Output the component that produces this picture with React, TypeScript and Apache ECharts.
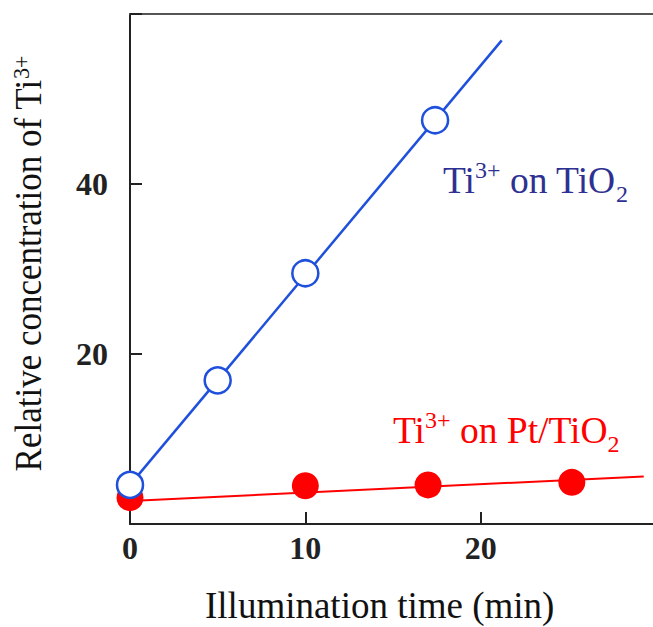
import React, { useEffect, useRef } from 'react';
import * as echarts from 'echarts';

// Data
const xTickStep = 10;
const yTickStep = 20;
const tio2Time = [0, 5, 10, 17.4];
const tio2Value = [4.6, 16.9, 29.5, 47.5];
const tio2FitTime = [0, 21.2];
const tio2FitValue = [4.6, 56.9];
const ptTime = [0, 10, 17, 25.2];
const ptValue = [3.1, 4.5, 4.6, 4.9];
const ptFitTime = [0, 29.3];
const ptFitValue = [2.7, 5.6];

// Text pieces: [text, kind] where kind is n (normal), sup or sub
type Part = [string, 'n' | 'sup' | 'sub'];
const tio2Label: Part[] = [['Ti', 'n'], ['3+', 'sup'], [' on TiO', 'n'], ['2', 'sub']];
const ptLabel: Part[] = [['Ti', 'n'], ['3+', 'sup'], [' on Pt/TiO', 'n'], ['2', 'sub']];
const yTitle: Part[] = [['Relative concentration of Ti', 'n'], ['3+', 'sup']];
const xTitle = 'Illumination time (min)';

const SERIF = 'Liberation Serif, serif';
const NAVY = '#2e3192';
const BLUE = '#1f50dc';
const RED = '#ff0000';

const pairs = (xs: number[], ys: number[]) => xs.map((x, i) => [x, ys[i]]);

let ctx: CanvasRenderingContext2D | null = null;
function measure(text: string, font: string): number {
  if (!ctx) ctx = document.createElement('canvas').getContext('2d');
  if (!ctx) return text.length * 10;
  ctx.font = font;
  return ctx.measureText(text).width;
}

function scriptTexts(
  parts: Part[], x0: number, yc: number, color: string,
  size: number, small: number, supDy: number, subDy: number, centered = false,
) {
  const fonts = { n: `${size}px ${SERIF}`, sup: `${small}px ${SERIF}`, sub: `${small}px ${SERIF}` };
  const widths = parts.map(([t, k]) => measure(t, fonts[k]));
  const total = widths.reduce((a, b) => a + b, 0);
  let x = centered ? x0 - total / 2 : x0;
  return parts.map(([t, k], i) => {
    const el = {
      type: 'text', x, y: yc + (k === 'sup' ? supDy : k === 'sub' ? subDy : 0), z: 10,
      style: { text: t, font: fonts[k], fill: color, align: 'left', verticalAlign: 'middle' },
    };
    x += widths[i];
    return el;
  });
}

export default function App() {
  const ref = useRef<HTMLDivElement>(null);
  useEffect(() => {
    if (!ref.current) return;
    const chart = echarts.init(ref.current, null, { renderer: 'svg' });
    const axisColor = '#222';
    chart.setOption({
      animation: false,
      backgroundColor: '#fff',
      grid: { left: 130, right: 4, top: 14, bottom: 103, containLabel: false },
      xAxis: [
        {
          type: 'value', min: 0, max: 30, interval: xTickStep, position: 'bottom',
          axisLine: { show: true, lineStyle: { color: axisColor, width: 2 } },
          axisTick: { show: true, inside: true, length: 12, lineStyle: { color: axisColor, width: 2 } },
          axisLabel: {
            formatter: (v: number) => (v >= 30 ? '' : String(v)),
            fontFamily: SERIF, fontWeight: 'bold', fontSize: 32, color: '#222', margin: 8,
          },
          splitLine: { show: false },
        },
        {
          type: 'value', min: 0, max: 30, position: 'top',
          axisLine: { show: true, onZero: false, lineStyle: { color: '#555', width: 2 } },
          axisTick: { show: false }, axisLabel: { show: false }, splitLine: { show: false },
        },
      ],
      yAxis: {
        type: 'value', min: 0, max: 60, interval: yTickStep,
        axisLine: { show: true, lineStyle: { color: axisColor, width: 2 } },
        axisTick: { show: true, inside: true, length: 12, lineStyle: { color: axisColor, width: 2 } },
        axisLabel: {
          formatter: (v: number) => (v === 0 || v >= 60 ? '' : String(v)),
          fontFamily: SERIF, fontWeight: 'bold', fontSize: 32, color: '#222', margin: 22,
        },
        splitLine: { show: false },
      },
      series: [
        {
          type: 'line', data: pairs(ptFitTime, ptFitValue), showSymbol: false, symbol: 'none',
          lineStyle: { color: RED, width: 2 }, z: 2,
        },
        {
          type: 'scatter', data: pairs(ptTime, ptValue), symbol: 'circle', symbolSize: 27,
          itemStyle: { color: RED, opacity: 1 }, z: 3,
        },
        {
          type: 'line', data: pairs(tio2FitTime, tio2FitValue), showSymbol: false, symbol: 'none',
          lineStyle: { color: BLUE, width: 2.5 }, z: 4,
        },
        {
          type: 'scatter', data: pairs(tio2Time, tio2Value), symbol: 'circle', symbolSize: 26,
          itemStyle: { color: '#fff', borderColor: BLUE, borderWidth: 2.5, opacity: 1 }, z: 5,
        },
      ],
      graphic: [
        ...scriptTexts(tio2Label, 443, 180, NAVY, 37.5, 24, -10, 14),
        ...scriptTexts(ptLabel, 393, 430, RED, 37.5, 24, -10, 14),
        {
          type: 'text', x: 205, y: 605, z: 10,
          style: { text: xTitle, font: `37px ${SERIF}`, fill: '#111', align: 'left', verticalAlign: 'middle' },
        },
        {
          type: 'group', x: 29, y: 263.5, rotation: Math.PI / 2, scaleY: 1.08,
          children: scriptTexts(yTitle, 0, 0, '#111', 35, 22, -7, 10, true),
        },
      ],
    });
    return () => chart.dispose();
  }, []);
  return (
    <div style={{ position: 'fixed', left: 0, top: 0, width: 653, height: 627, overflow: 'hidden', background: '#fff' }}>
      <div ref={ref} style={{ width: 660, height: 627 }} />
    </div>
  );
}
